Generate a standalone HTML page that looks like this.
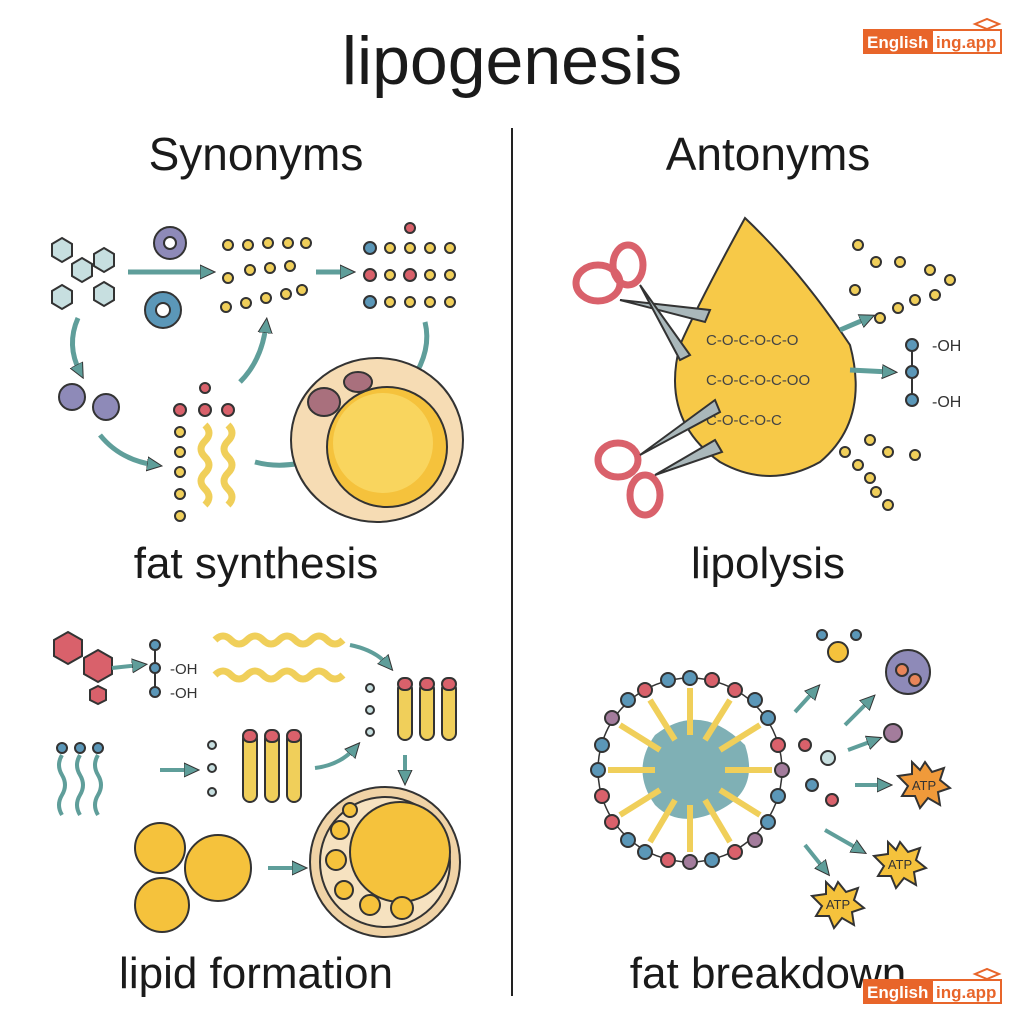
<!DOCTYPE html>
<html><head><meta charset="utf-8"><style>
html,body{margin:0;padding:0;background:#fff}
svg{display:block}
text{font-family:"Liberation Sans",sans-serif}
</style></head><body>
<svg width="1024" height="1024" viewBox="0 0 1024 1024" xmlns="http://www.w3.org/2000/svg">
<defs>
<marker id="ar" markerUnits="userSpaceOnUse" markerWidth="16" markerHeight="16" refX="8" refY="8" orient="auto"><path d="M0,1 L15,8 L0,15 z" fill="#5f9e9a" stroke="#333" stroke-width="1"/></marker>
</defs>
<rect width="1024" height="1024" fill="#fff"/>
<g>
<rect x="863" y="29" width="139" height="25" fill="#e8652a"/>
<rect x="933" y="31" width="67" height="21" fill="#fff"/>
<text x="867" y="48" font-size="17" font-weight="bold" fill="#fff">English</text>
<text x="936" y="48" font-size="17" font-weight="bold" fill="#e8652a">ing.app</text>
<path d="M975,24 L987,19 L999,24 L987,29 z" fill="#fff" stroke="#e8652a" stroke-width="2"/>
</g>
<text x="512" y="84" font-size="68" text-anchor="middle" fill="#1a1a1a">lipogenesis</text>
<line x1="512" y1="128" x2="512" y2="996" stroke="#222" stroke-width="2"/>
<text x="256" y="170" font-size="46" text-anchor="middle" fill="#1a1a1a">Synonyms</text>
<text x="768" y="170" font-size="46" text-anchor="middle" fill="#1a1a1a">Antonyms</text>
<text x="256" y="578" font-size="44" text-anchor="middle" fill="#1a1a1a">fat synthesis</text>
<text x="768" y="578" font-size="44" text-anchor="middle" fill="#1a1a1a">lipolysis</text>
<text x="256" y="988" font-size="44" text-anchor="middle" fill="#1a1a1a">lipid formation</text>
<text x="768" y="988" font-size="44" text-anchor="middle" fill="#1a1a1a">fat breakdown</text>
<g>
<rect x="863" y="979" width="139" height="25" fill="#e8652a"/>
<rect x="933" y="981" width="67" height="21" fill="#fff"/>
<text x="867" y="998" font-size="17" font-weight="bold" fill="#fff">English</text>
<text x="936" y="998" font-size="17" font-weight="bold" fill="#e8652a">ing.app</text>
<path d="M975,974 L987,969 L999,974 L987,979 z" fill="#fff" stroke="#e8652a" stroke-width="2"/>
</g>

<g stroke="#333" stroke-width="2">
<g fill="#c7dfe0">
<polygon points="62,238 72,244 72,256 62,262 52,256 52,244"/>
<polygon points="82,258 92,264 92,276 82,282 72,276 72,264"/>
<polygon points="104,248 114,254 114,266 104,272 94,266 94,254"/>
<polygon points="62,285 72,291 72,303 62,309 52,303 52,291"/>
<polygon points="104,282 114,288 114,300 104,306 94,300 94,288"/>
</g>
<circle cx="170" cy="243" r="16" fill="#8e8ab8"/><circle cx="170" cy="243" r="6" fill="#fff"/>
<circle cx="163" cy="310" r="18" fill="#5b97b8"/><circle cx="163" cy="310" r="7" fill="#fff"/>
<circle cx="72" cy="397" r="13" fill="#8e8ab8"/><circle cx="106" cy="407" r="13" fill="#8e8ab8"/>
<line x1="128" y1="272" x2="208" y2="272" stroke="#5f9e9a" stroke-width="5" marker-end="url(#ar)"/>
<line x1="316" y1="272" x2="348" y2="272" stroke="#5f9e9a" stroke-width="5" marker-end="url(#ar)"/>
<path d="M78,318 Q66,345 80,372" fill="none" stroke="#5f9e9a" stroke-width="5" marker-end="url(#ar)"/>
<path d="M100,435 Q120,460 155,465" fill="none" stroke="#5f9e9a" stroke-width="5" marker-end="url(#ar)"/>
<path d="M240,382 Q262,360 266,325" fill="none" stroke="#5f9e9a" stroke-width="5" marker-end="url(#ar)"/>
<path d="M255,462 Q285,470 318,458" fill="none" stroke="#5f9e9a" stroke-width="5" marker-end="url(#ar)"/>
<path d="M425,322 Q432,350 412,380" fill="none" stroke="#5f9e9a" stroke-width="5" marker-end="url(#ar)"/>
<g fill="#f0cf5a">
<circle cx="228" cy="245" r="5"/><circle cx="248" cy="245" r="5"/><circle cx="268" cy="243" r="5"/><circle cx="288" cy="243" r="5"/><circle cx="306" cy="243" r="5"/>
<circle cx="228" cy="278" r="5"/><circle cx="250" cy="270" r="5"/><circle cx="270" cy="268" r="5"/><circle cx="290" cy="266" r="5"/>
<circle cx="226" cy="307" r="5"/><circle cx="246" cy="303" r="5"/><circle cx="266" cy="298" r="5"/><circle cx="286" cy="294" r="5"/><circle cx="302" cy="290" r="5"/>
<circle cx="390" cy="248" r="5"/><circle cx="410" cy="248" r="5"/><circle cx="430" cy="248" r="5"/><circle cx="450" cy="248" r="5"/>
<circle cx="390" cy="275" r="5"/><circle cx="430" cy="275" r="5"/><circle cx="450" cy="275" r="5"/>
<circle cx="390" cy="302" r="5"/><circle cx="410" cy="302" r="5"/><circle cx="430" cy="302" r="5"/><circle cx="450" cy="302" r="5"/>
<circle cx="180" cy="432" r="5"/><circle cx="180" cy="452" r="5"/><circle cx="180" cy="472" r="5"/><circle cx="180" cy="494" r="5"/><circle cx="180" cy="516" r="5"/>
</g>
<circle cx="370" cy="248" r="6" fill="#5b97b8"/><circle cx="370" cy="275" r="6" fill="#d9616b"/><circle cx="370" cy="302" r="6" fill="#5b97b8"/>
<circle cx="410" cy="275" r="6" fill="#d9616b"/><circle cx="410" cy="228" r="5" fill="#d9616b"/>
<circle cx="180" cy="410" r="6" fill="#d9616b"/><circle cx="205" cy="410" r="6" fill="#d9616b"/><circle cx="228" cy="410" r="6" fill="#d9616b"/><circle cx="205" cy="388" r="5" fill="#d9616b"/>
<path d="M205,425 q8,8 0,16 q-8,8 0,16 q8,8 0,16 q-8,8 0,16 q8,8 0,16" fill="none" stroke="#f0cf5a" stroke-width="7"/>
<path d="M228,425 q8,8 0,16 q-8,8 0,16 q8,8 0,16 q-8,8 0,16 q8,8 0,16" fill="none" stroke="#f0cf5a" stroke-width="7"/>
<ellipse cx="377" cy="440" rx="86" ry="82" fill="#f6dcb4"/>
<ellipse cx="324" cy="402" rx="16" ry="14" fill="#a9707d"/>
<ellipse cx="358" cy="382" rx="14" ry="10" fill="#a9707d"/>
<circle cx="387" cy="447" r="60" fill="#f5c23c"/>
<circle cx="383" cy="443" r="50" fill="#f9d55e" stroke="none"/>

<path d="M745,218 Q700,300 680,345 Q660,420 720,462 Q770,490 820,462 Q870,420 850,345 Q800,270 745,218 z" fill="#f7c948"/>
<text x="706" y="345" font-size="15" stroke="none" fill="#444">C-O-C-O-C-O</text>
<text x="706" y="385" font-size="15" stroke="none" fill="#444">C-O-C-O-C-OO</text>
<text x="706" y="425" font-size="15" stroke="none" fill="#444">C-O-C-O-C</text>
<ellipse cx="598" cy="283" rx="22" ry="18" fill="none" stroke="#d9616b" stroke-width="7"/><ellipse cx="628" cy="265" rx="15" ry="20" fill="none" stroke="#d9616b" stroke-width="7"/>
<ellipse cx="618" cy="460" rx="20" ry="17" fill="none" stroke="#d9616b" stroke-width="7"/><ellipse cx="645" cy="495" rx="15" ry="20" fill="none" stroke="#d9616b" stroke-width="7"/>
<polygon points="620,300 710,310 705,322" fill="#aab8bb"/>
<polygon points="640,285 690,355 680,360" fill="#aab8bb"/>
<polygon points="640,455 715,400 720,412" fill="#aab8bb"/>
<polygon points="655,475 715,440 722,452" fill="#aab8bb"/>
<path d="M840,330 L868,318" stroke="#5f9e9a" stroke-width="5" marker-end="url(#ar)"/>
<path d="M850,370 L890,372" stroke="#5f9e9a" stroke-width="5" marker-end="url(#ar)"/>
<line x1="912" y1="345" x2="912" y2="400" stroke="#333"/>
<circle cx="912" cy="345" r="6" fill="#5b97b8"/><circle cx="912" cy="372" r="6" fill="#5b97b8"/><circle cx="912" cy="400" r="6" fill="#5b97b8"/>
<text x="932" y="351" font-size="16" fill="#333" stroke="none">-OH</text>
<text x="932" y="407" font-size="16" fill="#333" stroke="none">-OH</text>
<g fill="#f0cf5a">
<circle cx="858" cy="245" r="5"/><circle cx="876" cy="262" r="5"/><circle cx="900" cy="262" r="5"/><circle cx="855" cy="290" r="5"/>
<circle cx="930" cy="270" r="5"/><circle cx="950" cy="280" r="5"/><circle cx="935" cy="295" r="5"/><circle cx="915" cy="300" r="5"/><circle cx="898" cy="308" r="5"/><circle cx="880" cy="318" r="5"/>
<circle cx="845" cy="452" r="5"/><circle cx="858" cy="465" r="5"/><circle cx="870" cy="478" r="5"/><circle cx="876" cy="492" r="5"/><circle cx="888" cy="505" r="5"/>
<circle cx="870" cy="440" r="5"/><circle cx="888" cy="452" r="5"/><circle cx="915" cy="455" r="5"/>
</g>

<polygon points="68,632 82,640 82,656 68,664 54,656 54,640" fill="#d9616b"/>
<polygon points="98,650 112,658 112,674 98,682 84,674 84,658" fill="#d9616b"/>
<polygon points="98,686 106,690 106,700 98,704 90,700 90,690" fill="#d9616b"/>
<line x1="112" y1="668" x2="140" y2="665" stroke="#5f9e9a" stroke-width="4" marker-end="url(#ar)"/>
<line x1="155" y1="645" x2="155" y2="692" stroke="#333"/>
<circle cx="155" cy="645" r="5" fill="#5b97b8"/><circle cx="155" cy="668" r="5" fill="#5b97b8"/><circle cx="155" cy="692" r="5" fill="#5b97b8"/>
<text x="170" y="674" font-size="15" fill="#333" stroke="none">-OH</text>
<text x="170" y="698" font-size="15" fill="#333" stroke="none">-OH</text>
<path d="M215,640 q8,-8 16,0 q8,8 16,0 q8,-8 16,0 q8,8 16,0 q8,-8 16,0 q8,8 16,0 q8,-8 16,0 q8,8 16,0" fill="none" stroke="#f0cf5a" stroke-width="7"/>
<path d="M215,675 q8,-8 16,0 q8,8 16,0 q8,-8 16,0 q8,8 16,0 q8,-8 16,0 q8,8 16,0 q8,-8 16,0 q8,8 16,0" fill="none" stroke="#f0cf5a" stroke-width="7"/>
<path d="M350,645 Q375,650 388,665" fill="none" stroke="#5f9e9a" stroke-width="4" marker-end="url(#ar)"/>
<g fill="#f0cf5a">
<rect x="398" y="682" width="14" height="58" rx="7"/><rect x="420" y="682" width="14" height="58" rx="7"/><rect x="442" y="682" width="14" height="58" rx="7"/>
<rect x="243" y="732" width="14" height="70" rx="7"/><rect x="265" y="732" width="14" height="70" rx="7"/><rect x="287" y="732" width="14" height="70" rx="7"/>
</g>
<g fill="#d9616b"><rect x="398" y="678" width="14" height="12" rx="6"/><rect x="420" y="678" width="14" height="12" rx="6"/><rect x="442" y="678" width="14" height="12" rx="6"/>
<rect x="243" y="730" width="14" height="12" rx="6"/><rect x="265" y="730" width="14" height="12" rx="6"/><rect x="287" y="730" width="14" height="12" rx="6"/></g>
<g fill="#c7dfe0"><circle cx="370" cy="688" r="4"/><circle cx="370" cy="710" r="4"/><circle cx="370" cy="732" r="4"/><circle cx="212" cy="745" r="4"/><circle cx="212" cy="768" r="4"/><circle cx="212" cy="792" r="4"/></g>
<g fill="#5b97b8"><circle cx="62" cy="748" r="5"/><circle cx="80" cy="748" r="5"/><circle cx="98" cy="748" r="5"/></g>
<path d="M62,755 q-6,10 0,20 q6,10 0,20 q-6,10 0,20" fill="none" stroke="#5f9e9a" stroke-width="4"/>
<path d="M80,755 q-6,10 0,20 q6,10 0,20 q-6,10 0,20" fill="none" stroke="#5f9e9a" stroke-width="4"/>
<path d="M98,755 q-6,10 0,20 q6,10 0,20 q-6,10 0,20" fill="none" stroke="#5f9e9a" stroke-width="4"/>
<line x1="160" y1="770" x2="192" y2="770" stroke="#5f9e9a" stroke-width="4" marker-end="url(#ar)"/>
<path d="M315,768 Q340,765 355,748" fill="none" stroke="#5f9e9a" stroke-width="4" marker-end="url(#ar)"/>
<line x1="405" y1="755" x2="405" y2="778" stroke="#5f9e9a" stroke-width="4" marker-end="url(#ar)"/>
<circle cx="160" cy="848" r="25" fill="#f5c23c"/>
<circle cx="218" cy="868" r="33" fill="#f5c23c"/>
<circle cx="162" cy="905" r="27" fill="#f5c23c"/>
<line x1="268" y1="868" x2="300" y2="868" stroke="#5f9e9a" stroke-width="4" marker-end="url(#ar)"/>
<circle cx="385" cy="862" r="75" fill="#f0d3a6"/>
<circle cx="385" cy="862" r="65" fill="#f6e2c0"/>
<circle cx="400" cy="852" r="50" fill="#f5c23c"/>
<g fill="#f5c23c"><circle cx="340" cy="830" r="9"/><circle cx="336" cy="860" r="10"/><circle cx="344" cy="890" r="9"/><circle cx="370" cy="905" r="10"/><circle cx="402" cy="908" r="11"/><circle cx="350" cy="810" r="7"/></g>

<circle cx="690" cy="770" r="92" fill="none" stroke="#333" stroke-width="1.5"/>
<path d="M655,735 Q700,700 745,745 Q760,790 720,810 Q680,830 655,805 Q630,770 655,735 z" fill="#7fb0b5" stroke="none"/>
<g stroke="#f0cf5a" stroke-width="6" fill="none">
<path d="M690,688 L690,735"/><path d="M730,700 L705,740"/><path d="M760,725 L720,750"/><path d="M772,770 L725,770"/>
<path d="M760,815 L720,790"/><path d="M730,842 L705,800"/><path d="M690,852 L690,805"/><path d="M650,842 L675,800"/>
<path d="M620,815 L660,790"/><path d="M608,770 L655,770"/><path d="M620,725 L660,750"/><path d="M650,700 L675,740"/>
</g>
<circle cx="690" cy="678" r="7" fill="#5b97b8"/><circle cx="735" cy="690" r="7" fill="#d9616b"/><circle cx="768" cy="718" r="7" fill="#5b97b8"/>
<circle cx="782" cy="770" r="7" fill="#a37c9c"/><circle cx="768" cy="822" r="7" fill="#5b97b8"/><circle cx="735" cy="852" r="7" fill="#d9616b"/>
<circle cx="690" cy="862" r="7" fill="#a37c9c"/><circle cx="645" cy="852" r="7" fill="#5b97b8"/><circle cx="612" cy="822" r="7" fill="#d9616b"/>
<circle cx="598" cy="770" r="7" fill="#5b97b8"/><circle cx="612" cy="718" r="7" fill="#a37c9c"/><circle cx="645" cy="690" r="7" fill="#d9616b"/>
<circle cx="712" cy="680" r="7" fill="#d9616b"/><circle cx="755" cy="700" r="7" fill="#5b97b8"/><circle cx="778" cy="745" r="7" fill="#d9616b"/><circle cx="778" cy="796" r="7" fill="#5b97b8"/>
<circle cx="755" cy="840" r="7" fill="#a37c9c"/><circle cx="712" cy="860" r="7" fill="#5b97b8"/><circle cx="668" cy="860" r="7" fill="#d9616b"/><circle cx="628" cy="840" r="7" fill="#5b97b8"/>
<circle cx="602" cy="796" r="7" fill="#d9616b"/><circle cx="602" cy="745" r="7" fill="#5b97b8"/><circle cx="628" cy="700" r="7" fill="#5b97b8"/><circle cx="668" cy="680" r="7" fill="#5b97b8"/>
<path d="M795,712 L815,690" stroke="#5f9e9a" stroke-width="4" marker-end="url(#ar)"/>
<path d="M845,725 L870,700" stroke="#5f9e9a" stroke-width="4" marker-end="url(#ar)"/>
<path d="M848,750 L875,740" stroke="#5f9e9a" stroke-width="4" marker-end="url(#ar)"/>
<path d="M855,785 L885,785" stroke="#5f9e9a" stroke-width="4" marker-end="url(#ar)"/>
<path d="M825,830 L860,850" stroke="#5f9e9a" stroke-width="4" marker-end="url(#ar)"/>
<path d="M805,845 L825,870" stroke="#5f9e9a" stroke-width="4" marker-end="url(#ar)"/>
<circle cx="838" cy="652" r="10" fill="#f5c23c"/><circle cx="822" cy="635" r="5" fill="#5b97b8"/><circle cx="856" cy="635" r="5" fill="#5b97b8"/>
<circle cx="908" cy="672" r="22" fill="#8e8ab8"/><circle cx="902" cy="670" r="6" fill="#e8855a"/><circle cx="915" cy="680" r="6" fill="#e8855a"/>
<circle cx="893" cy="733" r="9" fill="#a37c9c"/>
<circle cx="828" cy="758" r="7" fill="#c7dfe0"/><circle cx="805" cy="745" r="6" fill="#d9616b"/>
<circle cx="812" cy="785" r="6" fill="#5b97b8"/><circle cx="832" cy="800" r="6" fill="#d9616b"/>
<polygon points="925,762 932,772 944,768 940,780 950,788 938,792 940,805 928,798 920,808 915,796 902,796 908,786 898,776 912,774 912,762 920,770" fill="#f09a3a"/>
<text x="924" y="790" font-size="13" text-anchor="middle" fill="#333" stroke="none">ATP</text>
<polygon points="900,842 908,852 920,848 916,860 926,868 914,872 916,885 904,878 896,888 891,876 878,876 884,866 874,856 888,854 888,842 896,850" fill="#f5c23c"/>
<text x="900" y="869" font-size="13" text-anchor="middle" fill="#333" stroke="none">ATP</text>
<polygon points="838,882 846,892 858,888 854,900 864,908 852,912 854,925 842,918 834,928 829,916 816,916 822,906 812,896 826,894 826,882 834,890" fill="#f5c23c"/>
<text x="838" y="909" font-size="13" text-anchor="middle" fill="#333" stroke="none">ATP</text>
</g>
</svg>
</body></html>
